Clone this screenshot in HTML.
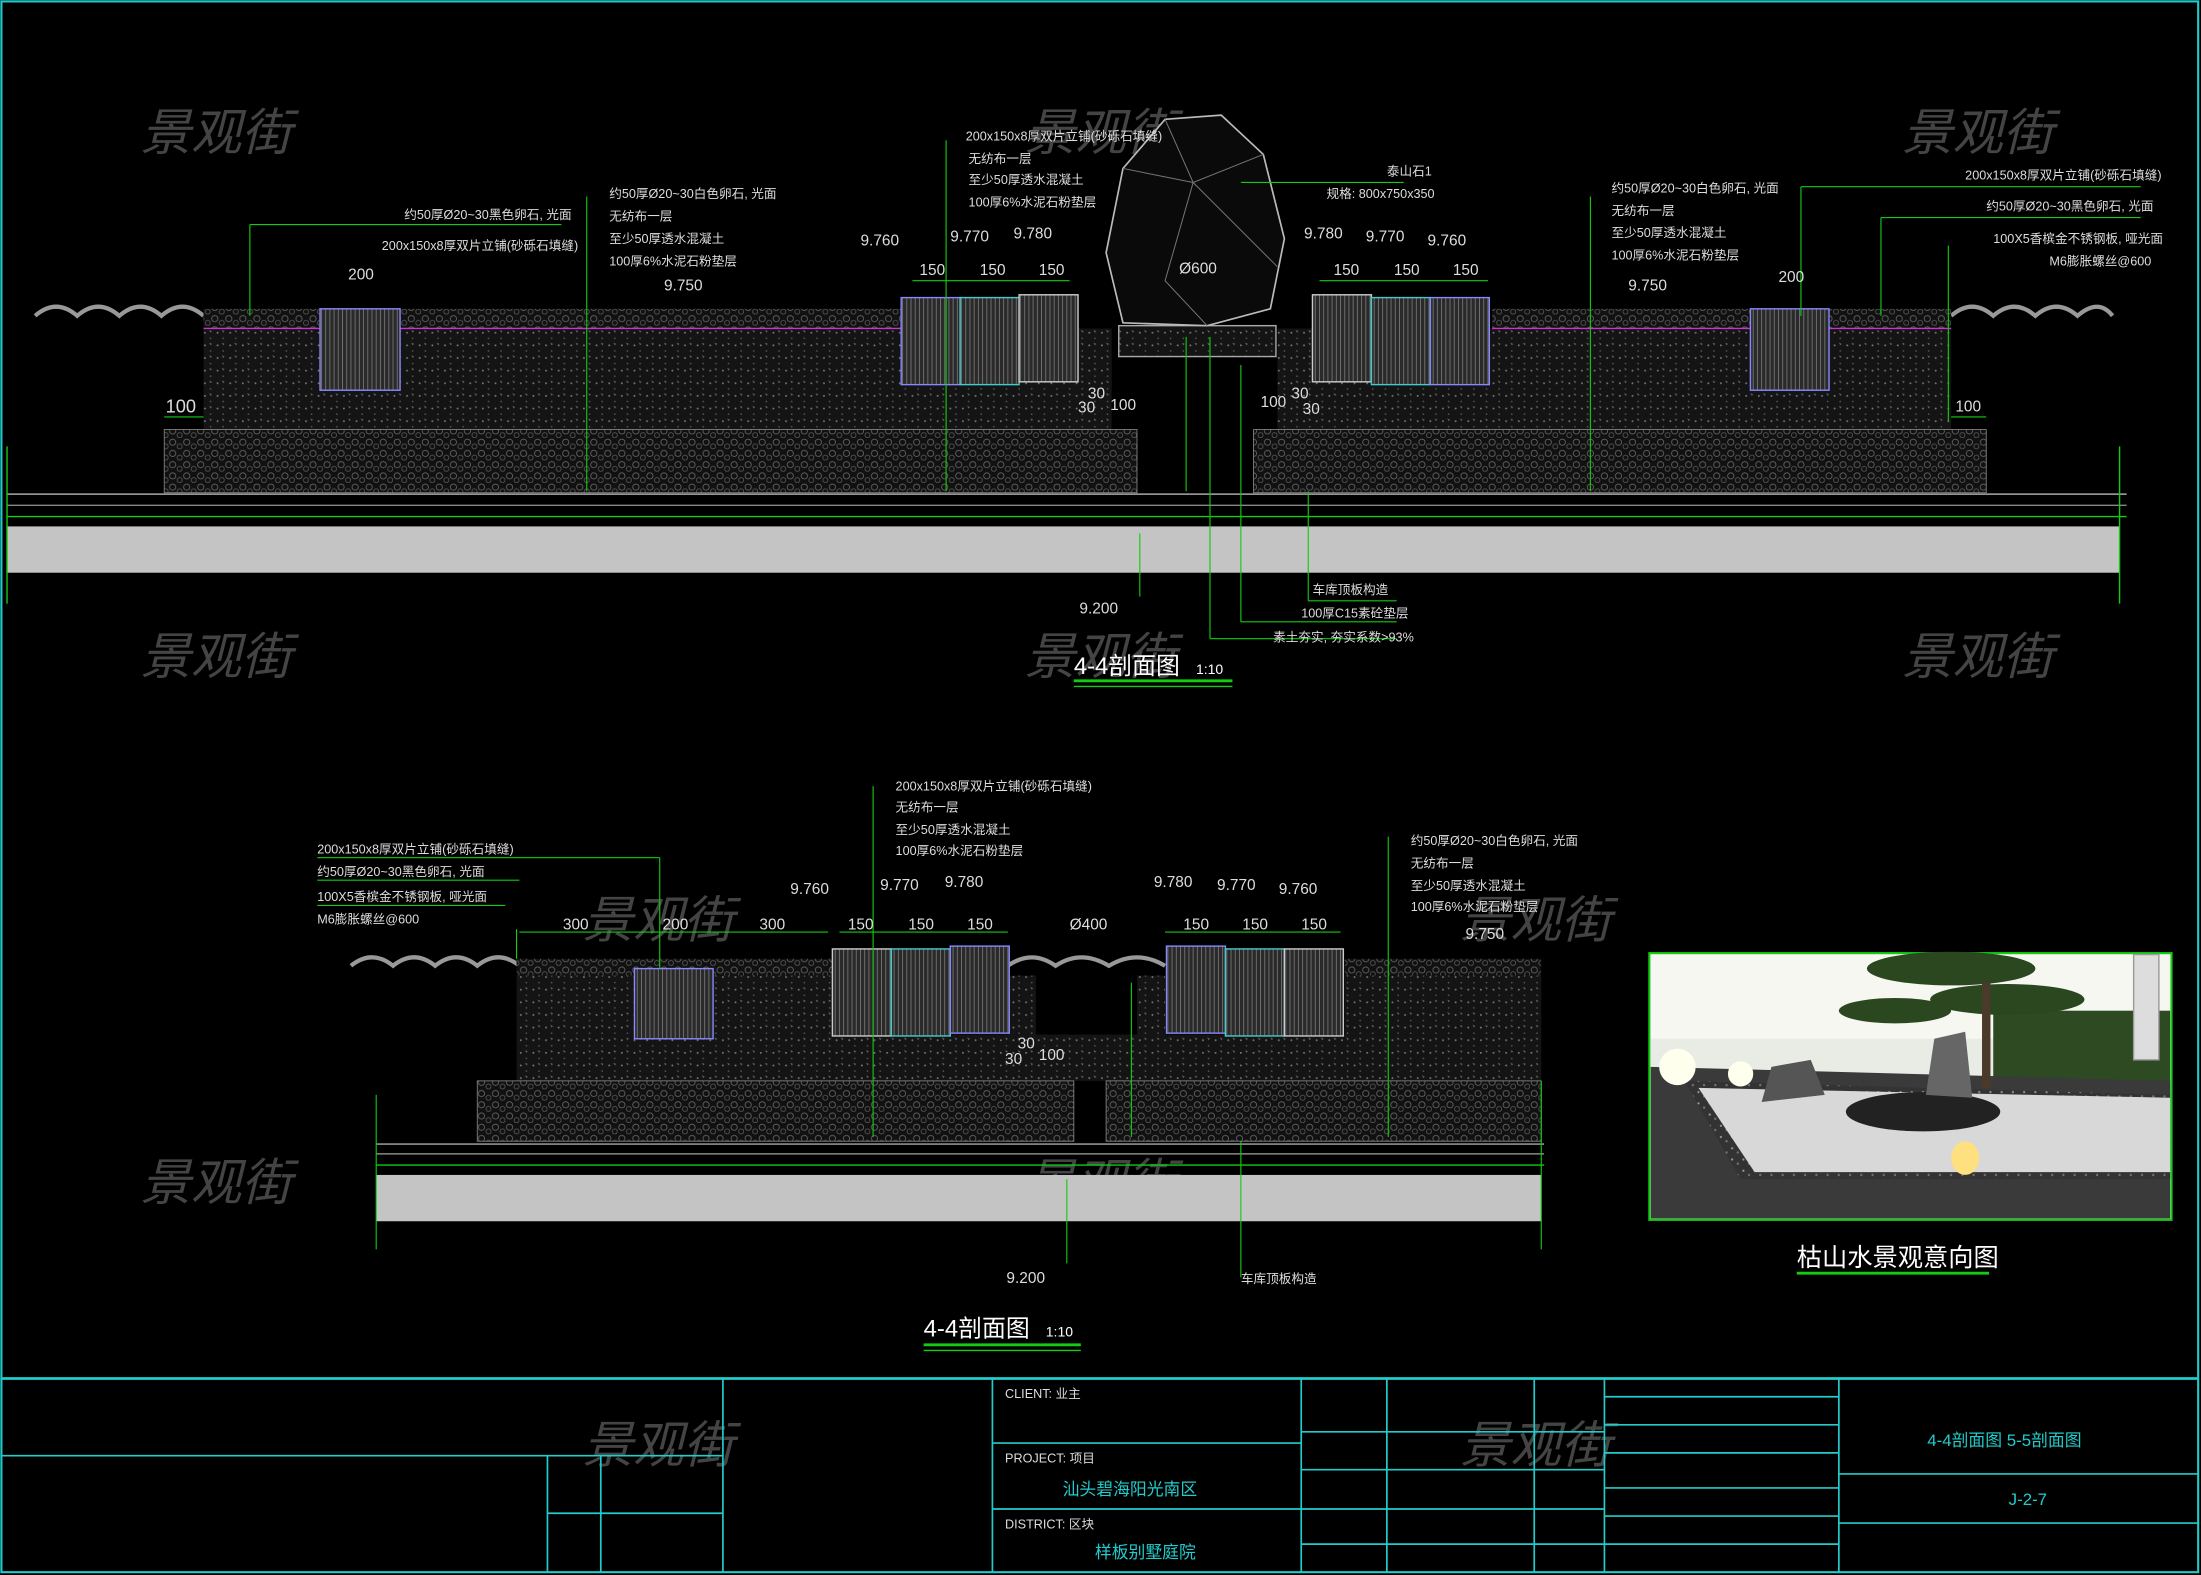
<!DOCTYPE html>
<html><head><meta charset="utf-8">
<style>
html,body{margin:0;padding:0;background:#000;}
svg{display:block;}
text{font-family:"Liberation Sans","Noto Sans CJK SC",sans-serif;}
</style></head>
<body>
<svg width="2201" height="1575" viewBox="0 0 1568 1122" preserveAspectRatio="none" xmlns="http://www.w3.org/2000/svg">
<defs>
<pattern id="dots" width="9" height="9" patternUnits="userSpaceOnUse">
<rect width="9" height="9" fill="#141414"/>
<circle cx="2" cy="3" r="0.7" fill="#777"/><circle cx="6" cy="7" r="0.6" fill="#555"/><path d="M5 1l2 1-1 1z" fill="#666"/>
</pattern>
<pattern id="peb" width="10" height="8" patternUnits="userSpaceOnUse">
<rect width="10" height="8" fill="#111"/>
<circle cx="3" cy="3" r="2.2" fill="none" stroke="#666" stroke-width="0.6"/><circle cx="8" cy="6" r="1.8" fill="none" stroke="#555" stroke-width="0.6"/>
</pattern>
<pattern id="stone" width="3" height="10" patternUnits="userSpaceOnUse">
<rect width="3" height="10" fill="#2a2a2a"/><line x1="1" y1="0" x2="1" y2="10" stroke="#888" stroke-width="0.5"/>
</pattern>
<pattern id="gr" width="8" height="8" patternUnits="userSpaceOnUse">
<rect width="8" height="8" fill="#333"/><circle cx="2" cy="2" r="0.8" fill="#999"/><circle cx="6" cy="5" r="0.8" fill="#777"/>
</pattern>
</defs>
<rect width="1568" height="1122" fill="#000"/>
<rect x="1" y="1" width="1565" height="1119" fill="none" stroke="#2cc" stroke-width="1.5"/>

<!-- watermarks -->
<g fill="#555" font-size="36" font-style="italic" opacity="0.8">
<text x="100" y="107">景观街</text><text x="730" y="107">景观街</text><text x="1355" y="107">景观街</text>
<text x="415" y="293">景观街</text><text x="1040" y="293">景观街</text>
<text x="100" y="480">景观街</text><text x="730" y="480">景观街</text><text x="1355" y="480">景观街</text>
<text x="415" y="668">景观街</text><text x="1040" y="668">景观街</text>
<text x="100" y="855">景观街</text><text x="730" y="855">景观街</text>
<text x="415" y="1042">景观街</text><text x="1040" y="1042">景观街</text>
</g>

<!-- SECTION 1 -->
<g>
<path d="M25 225 Q40 212 55 225 Q70 212 85 225 Q100 212 115 225 Q130 212 145 225" fill="none" stroke="#999" stroke-width="3"/>
<path d="M1390 225 Q1405 212 1420 225 Q1435 212 1450 225 Q1465 212 1480 225 Q1495 212 1505 225" fill="none" stroke="#999" stroke-width="3"/>
<rect x="145" y="220" width="497" height="14" fill="url(#peb)"/>
<rect x="145" y="234" width="497" height="72" fill="url(#dots)"/>
<rect x="642" y="234" width="150" height="72" fill="url(#dots)"/>
<rect x="910" y="234" width="155" height="72" fill="url(#dots)"/>
<rect x="1063" y="220" width="327" height="14" fill="url(#peb)"/>
<rect x="1063" y="234" width="327" height="72" fill="url(#dots)"/>
<rect x="117" y="306" width="693" height="45" fill="url(#peb)" stroke="#888" stroke-width="0.6"/>
<rect x="893" y="306" width="522" height="45" fill="url(#peb)" stroke="#888" stroke-width="0.6"/>
<line x1="145" y1="234" x2="642" y2="234" stroke="#c3c" stroke-width="1"/>
<line x1="1063" y1="234" x2="1390" y2="234" stroke="#c3c" stroke-width="1"/>
<rect x="228" y="220" width="57" height="58" fill="url(#stone)" stroke="#88f" stroke-width="1"/>
<rect x="1247" y="220" width="56" height="58" fill="url(#stone)" stroke="#88f" stroke-width="1"/>
<rect x="642" y="212" width="42" height="62" fill="url(#stone)" stroke="#88f"/>
<rect x="684" y="212" width="42" height="62" fill="url(#stone)" stroke="#4cc"/>
<rect x="726" y="210" width="42" height="62" fill="url(#stone)" stroke="#ccc"/>
<rect x="935" y="210" width="42" height="62" fill="url(#stone)" stroke="#ccc"/>
<rect x="977" y="212" width="42" height="62" fill="url(#stone)" stroke="#4cc"/>
<rect x="1019" y="212" width="42" height="62" fill="url(#stone)" stroke="#88f"/>
<rect x="797" y="232" width="112" height="22" fill="url(#dots)" stroke="#aaa"/>
<path d="M800 230 L788 180 L800 120 L830 85 L870 82 L900 110 L915 170 L905 220 L860 232 Z" fill="#0a0a0a" stroke="#bbb" stroke-width="1.2"/>
<path d="M830 85 L850 130 L900 110 M850 130 L830 200 L860 232 M850 130 L910 190 M800 120 L850 130" fill="none" stroke="#777" stroke-width="0.7"/>
<line x1="5" y1="352" x2="1515" y2="352" stroke="#aaa"/>
<line x1="5" y1="360" x2="1515" y2="360" stroke="#888"/>
<line x1="5" y1="368" x2="1515" y2="368" stroke="#1c1"/>
<rect x="5" y="375" width="1505" height="33" fill="#c4c4c4"/>
<line x1="5" y1="318" x2="5" y2="430" stroke="#1c1"/>
<line x1="1510" y1="318" x2="1510" y2="430" stroke="#1c1"/>
<g stroke="#1c1" stroke-width="0.8" fill="none">
<line x1="845" y1="240" x2="845" y2="350"/><line x1="862" y1="240" x2="862" y2="455"/><line x1="884" y1="130" x2="1000" y2="130"/>
<line x1="884" y1="260" x2="884" y2="443"/><line x1="884" y1="443" x2="995" y2="443"/><line x1="862" y1="455" x2="995" y2="455"/>
<line x1="932" y1="350" x2="932" y2="428"/><line x1="932" y1="428" x2="995" y2="428"/>
<line x1="812" y1="380" x2="812" y2="425"/>
<line x1="178" y1="160" x2="178" y2="225"/><line x1="178" y1="160" x2="400" y2="160"/>
<line x1="418" y1="140" x2="418" y2="350"/><line x1="674" y1="100" x2="674" y2="350"/>
<line x1="1133" y1="140" x2="1133" y2="350"/><line x1="1283" y1="133" x2="1283" y2="225"/><line x1="1283" y1="133" x2="1525" y2="133"/>
<line x1="1340" y1="155" x2="1340" y2="225"/><line x1="1340" y1="155" x2="1525" y2="155"/>
<line x1="1388" y1="175" x2="1388" y2="300"/>
<line x1="117" y1="297" x2="145" y2="297"/><line x1="1390" y1="297" x2="1415" y2="297"/>
<line x1="650" y1="200" x2="762" y2="200"/><line x1="940" y1="200" x2="1060" y2="200"/>
</g>
<g fill="#ddd" font-size="9">
<text x="688" y="100">200x150x8厚双片立铺(砂砾石填缝)</text><text x="690" y="116">无纺布一层</text>
<text x="690" y="131">至少50厚透水混凝土</text><text x="690" y="147">100厚6%水泥石粉垫层</text>
<text x="988" y="125">泰山石1</text><text x="945" y="141">规格: 800x750x350</text>
<text x="288" y="156">约50厚Ø20~30黑色卵石, 光面</text><text x="272" y="178">200x150x8厚双片立铺(砂砾石填缝)</text>
<text x="434" y="141">约50厚Ø20~30白色卵石, 光面</text><text x="434" y="157">无纺布一层</text>
<text x="434" y="173">至少50厚透水混凝土</text><text x="434" y="189">100厚6%水泥石粉垫层</text>
<text x="1148" y="137">约50厚Ø20~30白色卵石, 光面</text><text x="1148" y="153">无纺布一层</text>
<text x="1148" y="169">至少50厚透水混凝土</text><text x="1148" y="185">100厚6%水泥石粉垫层</text>
<text x="1400" y="128">200x150x8厚双片立铺(砂砾石填缝)</text><text x="1415" y="150">约50厚Ø20~30黑色卵石, 光面</text>
<text x="1420" y="173">100X5香槟金不锈钢板, 哑光面</text><text x="1460" y="189">M6膨胀螺丝@600</text>
<text x="935" y="423">车库顶板构造</text><text x="927" y="440">100厚C15素砼垫层</text><text x="907" y="457">素土夯实, 夯实系数&gt;93%</text>
</g>
<g fill="#ddd" font-size="11">
<text x="248" y="199">200</text><text x="473" y="207">9.750</text><text x="613" y="175">9.760</text>
<text x="677" y="172">9.770</text><text x="722" y="170">9.780</text><text x="655" y="196">150</text><text x="698" y="196">150</text><text x="740" y="196">150</text>
<text x="929" y="170">9.780</text><text x="973" y="172">9.770</text><text x="1017" y="175">9.760</text><text x="950" y="196">150</text><text x="993" y="196">150</text><text x="1035" y="196">150</text>
<text x="840" y="195">Ø600</text><text x="1160" y="207">9.750</text><text x="1267" y="201">200</text>
<text x="118" y="294" font-size="13">100</text><text x="1393" y="293">100</text>
<text x="791" y="292">100</text><text x="898" y="290">100</text><text x="775" y="284">30</text><text x="920" y="284">30</text>
<text x="768" y="294">30</text><text x="928" y="295">30</text>
<text x="769" y="437">9.200</text>
</g>
<text x="765" y="480" fill="#fff" font-size="17">4-4剖面图</text><text x="852" y="480" fill="#fff" font-size="10">1:10</text>
<line x1="765" y1="485" x2="878" y2="485" stroke="#1c1" stroke-width="2"/><line x1="765" y1="489" x2="878" y2="489" stroke="#1c1"/>
</g>

<!-- SECTION 2 -->
<g>
<path d="M250 688 Q265 676 280 688 Q295 676 310 688 Q325 676 340 688 Q355 676 370 688" fill="none" stroke="#999" stroke-width="3"/>
<path d="M718 688 Q735 676 752 688 Q770 676 790 688 Q810 676 830 688" fill="none" stroke="#999" stroke-width="3"/>
<rect x="368" y="683" width="225" height="12" fill="url(#peb)"/>
<rect x="368" y="695" width="225" height="75" fill="url(#dots)"/>
<rect x="593" y="737" width="372" height="33" fill="url(#dots)"/>
<rect x="718" y="695" width="20" height="45" fill="url(#dots)"/><rect x="810" y="695" width="20" height="45" fill="url(#dots)"/>
<rect x="958" y="683" width="140" height="12" fill="url(#peb)"/>
<rect x="958" y="695" width="140" height="75" fill="url(#dots)"/>
<rect x="340" y="770" width="425" height="43" fill="url(#peb)" stroke="#888" stroke-width="0.6"/>
<rect x="788" y="770" width="310" height="43" fill="url(#peb)" stroke="#888" stroke-width="0.6"/>
<rect x="452" y="690" width="56" height="50" fill="url(#stone)" stroke="#88f"/>
<rect x="593" y="676" width="42" height="62" fill="url(#stone)" stroke="#ccc"/>
<rect x="635" y="676" width="42" height="62" fill="url(#stone)" stroke="#4cc"/>
<rect x="677" y="674" width="42" height="62" fill="url(#stone)" stroke="#88f"/>
<rect x="831" y="674" width="42" height="62" fill="url(#stone)" stroke="#88f"/>
<rect x="873" y="676" width="42" height="62" fill="url(#stone)" stroke="#4cc"/>
<rect x="915" y="676" width="42" height="62" fill="url(#stone)" stroke="#ccc"/>
<line x1="268" y1="815" x2="1100" y2="815" stroke="#aaa"/>
<line x1="268" y1="822" x2="1100" y2="822" stroke="#888"/>
<line x1="268" y1="830" x2="1100" y2="830" stroke="#1c1"/>
<rect x="268" y="837" width="830" height="33" fill="#c4c4c4"/>
<g stroke="#1c1" stroke-width="0.8" fill="none">
<line x1="268" y1="780" x2="268" y2="890"/><line x1="1098" y1="770" x2="1098" y2="890"/>
<line x1="368" y1="662" x2="368" y2="683"/><line x1="622" y1="560" x2="622" y2="810"/>
<line x1="989" y1="596" x2="989" y2="810"/><line x1="760" y1="840" x2="760" y2="900"/>
<line x1="884" y1="813" x2="884" y2="910"/><line x1="806" y1="700" x2="806" y2="810"/>
<line x1="226" y1="611" x2="470" y2="611"/><line x1="470" y1="611" x2="470" y2="690"/>
<line x1="226" y1="627" x2="370" y2="627"/><line x1="226" y1="645" x2="360" y2="645"/>
<line x1="598" y1="664" x2="718" y2="664"/><line x1="830" y1="664" x2="955" y2="664"/><line x1="370" y1="664" x2="590" y2="664"/>
</g>
<g fill="#ddd" font-size="9">
<text x="638" y="563">200x150x8厚双片立铺(砂砾石填缝)</text><text x="638" y="578">无纺布一层</text>
<text x="638" y="594">至少50厚透水混凝土</text><text x="638" y="609">100厚6%水泥石粉垫层</text>
<text x="226" y="608">200x150x8厚双片立铺(砂砾石填缝)</text><text x="226" y="624">约50厚Ø20~30黑色卵石, 光面</text>
<text x="226" y="642">100X5香槟金不锈钢板, 哑光面</text><text x="226" y="658">M6膨胀螺丝@600</text>
<text x="1005" y="602">约50厚Ø20~30白色卵石, 光面</text><text x="1005" y="618">无纺布一层</text>
<text x="1005" y="634">至少50厚透水混凝土</text><text x="1005" y="649">100厚6%水泥石粉垫层</text>
<text x="884" y="914">车库顶板构造</text>
</g>
<g fill="#ddd" font-size="11">
<text x="563" y="637">9.760</text><text x="627" y="634">9.770</text><text x="673" y="632">9.780</text>
<text x="822" y="632">9.780</text><text x="867" y="634">9.770</text><text x="911" y="637">9.760</text>
<text x="1044" y="669">9.750</text><text x="401" y="662">300</text><text x="472" y="662">200</text><text x="541" y="662">300</text>
<text x="604" y="662">150</text><text x="647" y="662">150</text><text x="689" y="662">150</text><text x="762" y="662">Ø400</text>
<text x="843" y="662">150</text><text x="885" y="662">150</text><text x="927" y="662">150</text>
<text x="740" y="755">100</text><text x="725" y="747">30</text><text x="716" y="758">30</text>
<text x="717" y="914">9.200</text>
</g>
<text x="658" y="952" fill="#fff" font-size="17">4-4剖面图</text><text x="745" y="952" fill="#fff" font-size="10">1:10</text>
<line x1="658" y1="958" x2="770" y2="958" stroke="#1c1" stroke-width="2"/><line x1="658" y1="962" x2="770" y2="962" stroke="#1c1"/>
</g>

<!-- photo inset -->
<g>
<rect x="1175" y="679" width="372" height="190" fill="#e8ece4" stroke="#1c1" stroke-width="1.5"/>
<rect x="1176" y="680" width="370" height="60" fill="#f5f7f0"/>
<rect x="1420" y="720" width="126" height="60" fill="#2d4a22"/>
<path d="M1176 760 L1546 770 L1546 868 L1176 868 Z" fill="#3a3a3a"/>
<path d="M1200 770 L1546 780 L1546 840 L1240 840 Z" fill="url(#gr)"/>
<path d="M1210 775 L1546 782 L1546 835 L1250 835 Z" fill="#d8d8d8"/>
<ellipse cx="1370" cy="792" rx="55" ry="14" fill="#222"/>
<path d="M1255 785 L1262 760 L1290 755 L1300 780 Z" fill="#555"/>
<path d="M1372 780 L1378 740 L1400 735 L1405 782 Z" fill="#666"/>
<ellipse cx="1195" cy="760" rx="13" ry="13" fill="#ffe"/><ellipse cx="1240" cy="765" rx="9" ry="9" fill="#ffe"/>
<ellipse cx="1400" cy="825" rx="10" ry="12" fill="#ffe080"/>
<ellipse cx="1390" cy="690" rx="60" ry="12" fill="#2b4720"/><ellipse cx="1430" cy="712" rx="55" ry="11" fill="#2b4720"/><ellipse cx="1350" cy="720" rx="40" ry="9" fill="#2b4720"/>
<rect x="1412" y="700" width="6" height="75" fill="#4a3a2a"/>
<rect x="1520" y="680" width="18" height="75" fill="#ddd" stroke="#999"/>
</g>
<text x="1280" y="902" fill="#fff" font-size="18">枯山水景观意向图</text>
<line x1="1280" y1="907" x2="1417" y2="907" stroke="#1c1" stroke-width="2"/>

<!-- title block -->
<g stroke="#2cc" stroke-width="1.2" fill="none">
<line x1="1" y1="982" x2="1566" y2="982" stroke-width="2"/>
<line x1="515" y1="982" x2="515" y2="1120"/>
<line x1="707" y1="982" x2="707" y2="1120"/>
<line x1="927" y1="982" x2="927" y2="1120"/>
<line x1="988" y1="982" x2="988" y2="1120"/>
<line x1="1093" y1="982" x2="1093" y2="1120"/>
<line x1="1143" y1="982" x2="1143" y2="1120"/>
<line x1="1310" y1="982" x2="1310" y2="1120"/>
<line x1="1" y1="1037" x2="515" y2="1037"/>
<line x1="390" y1="1037" x2="390" y2="1120"/><line x1="428" y1="1037" x2="428" y2="1120"/>
<line x1="390" y1="1078" x2="515" y2="1078"/>
<line x1="707" y1="1028" x2="927" y2="1028"/><line x1="707" y1="1075" x2="927" y2="1075"/>
<line x1="927" y1="1020" x2="1143" y2="1020"/><line x1="927" y1="1047" x2="1143" y2="1047"/><line x1="927" y1="1075" x2="1143" y2="1075"/><line x1="927" y1="1100" x2="1143" y2="1100"/>
<line x1="1143" y1="995" x2="1310" y2="995"/><line x1="1143" y1="1015" x2="1310" y2="1015"/><line x1="1143" y1="1035" x2="1310" y2="1035"/><line x1="1143" y1="1060" x2="1310" y2="1060"/><line x1="1143" y1="1080" x2="1310" y2="1080"/><line x1="1143" y1="1100" x2="1310" y2="1100"/>
<line x1="1310" y1="1050" x2="1566" y2="1050"/><line x1="1310" y1="1085" x2="1566" y2="1085"/>
</g>
<g fill="#ddd" font-size="9">
<text x="716" y="996">CLIENT: 业主</text><text x="716" y="1042">PROJECT: 项目</text><text x="716" y="1089">DISTRICT: 区块</text>
</g>
<g fill="#2cc" font-size="12">
<text x="757" y="1065">汕头碧海阳光南区</text><text x="780" y="1110">样板别墅庭院</text>
<text x="1373" y="1030">4-4剖面图 5-5剖面图</text><text x="1431" y="1072">J-2-7</text>
</g>
</svg>
</body></html>
